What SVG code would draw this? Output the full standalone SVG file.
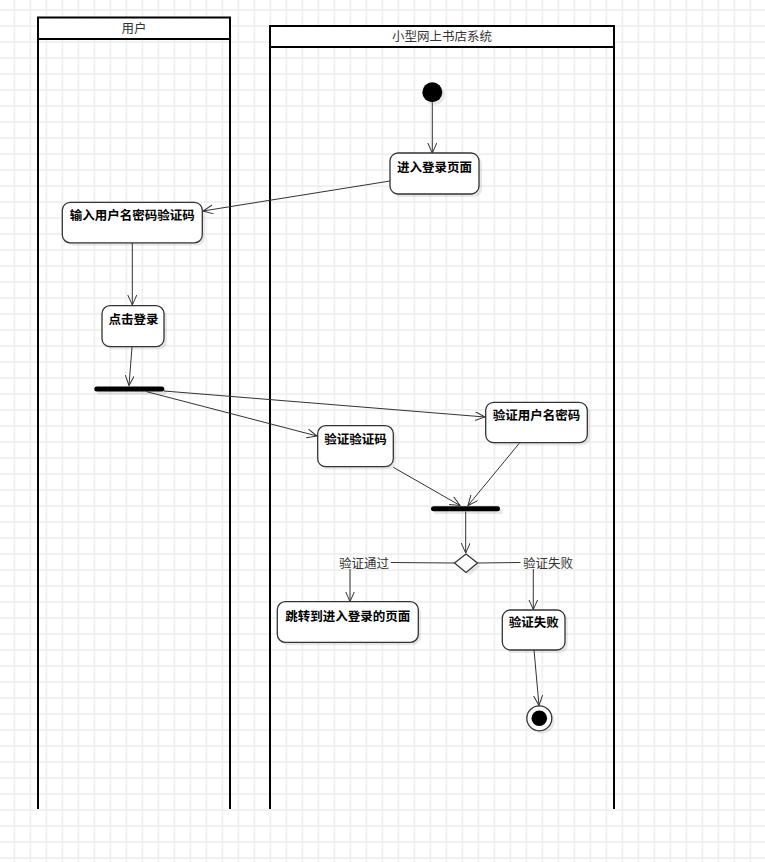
<svg xmlns="http://www.w3.org/2000/svg" width="765" height="862" viewBox="0 0 765 862">
<defs>
<pattern id="grid" x="6.3" y="2" width="16" height="16" patternUnits="userSpaceOnUse">
<path d="M8 0 V16 M0 8 H16" stroke="#ededed" stroke-width="1.4" fill="none"/>
</pattern>
<marker id="arr" markerWidth="12" markerHeight="10" refX="10" refY="4.5" orient="auto" markerUnits="userSpaceOnUse">
<path d="M0,0 L10,4.5 L0,9" fill="none" stroke="#333" stroke-width="1"/>
</marker>
<style>
.lane{fill:none;stroke:#000;stroke-width:2}
.lanehead{fill:#fff;stroke:#000;stroke-width:2}
.title{font-family:"Noto Sans CJK SC","Noto Sans",sans-serif;font-size:12.5px;fill:#333;text-anchor:middle;dominant-baseline:central}
.box{fill:#fff;stroke:#333;stroke-width:1.3}
.shadow{fill:#000;fill-opacity:0.09}
.lbl{font-family:"Noto Sans CJK SC","Noto Sans",sans-serif;font-size:12.5px;font-weight:bold;fill:#000;text-anchor:middle;dominant-baseline:central}
.elbl{font-family:"Noto Sans CJK SC","Noto Sans",sans-serif;font-size:12.5px;fill:#333;text-anchor:middle;dominant-baseline:central}
.edge{stroke:#333;stroke-width:1;fill:none}
.bar{fill:#000}
</style>
</defs>
<rect width="765" height="862" fill="#fff"/>
<rect width="765" height="862" fill="url(#grid)"/>

<g id="lane-user">
<path class="lane" d="M38 39 V809 M230 39 V809"/>
<rect class="lanehead" x="38" y="17.5" width="192" height="21.5"/>
<text class="title" x="134" y="27.5">用户</text>
</g>
<g id="lane-system">
<path class="lane" d="M270 47 V809 M614 47 V809"/>
<rect class="lanehead" x="270" y="26" width="344" height="21"/>
<text class="title" x="442" y="35.5">小型网上书店系统</text>
</g>

<g id="start">
<circle cx="435" cy="95" r="10" class="shadow"/>
<circle cx="432.3" cy="92.3" r="10" fill="#000"/>
</g>

<g id="n-enter">
<rect class="shadow" x="393" y="156" width="89" height="41" rx="8"/>
<rect class="box" x="390" y="153" width="89" height="41" rx="8"/>
<text class="lbl" x="434.5" y="166">进入登录页面</text>
</g>

<g id="n-input">
<rect class="shadow" x="65" y="205" width="140" height="40.5" rx="8"/>
<rect class="box" x="62.3" y="202.3" width="140" height="40.5" rx="8"/>
<text class="lbl" x="132.3" y="214">输入用户名密码验证码</text>
</g>

<g id="n-click">
<rect class="shadow" x="105" y="308.5" width="62" height="41" rx="8"/>
<rect class="box" x="102" y="305.7" width="62" height="41" rx="8"/>
<text class="lbl" x="133.5" y="318">点击登录</text>
</g>

<g id="fork1">
<rect class="shadow" x="97" y="389.5" width="70" height="5" rx="2.5"/>
<rect class="bar" x="94.3" y="386.5" width="70" height="5" rx="2.5"/>
</g>

<g id="n-code">
<rect class="shadow" x="320.5" y="428.5" width="75.6" height="41" rx="8"/>
<rect class="box" x="317.7" y="425.7" width="75.6" height="41" rx="8"/>
<text class="lbl" x="355.5" y="438">验证验证码</text>
</g>

<g id="n-userpwd">
<rect class="shadow" x="488.5" y="405" width="101.6" height="40.4" rx="8"/>
<rect class="box" x="485.7" y="402.3" width="101.6" height="40.4" rx="8"/>
<text class="lbl" x="536.5" y="414">验证用户名密码</text>
</g>

<g id="join">
<rect class="shadow" x="434" y="509" width="69" height="5" rx="2.5"/>
<rect class="bar" x="431" y="506.2" width="69" height="5" rx="2.5"/>
</g>

<g id="decision">
<path d="M469 557 L480.5 566 L469 575.5 L457.5 566 Z" class="shadow"/>
<path d="M466 554 L477.5 563 L466 572.5 L454.5 563 Z" fill="#fff" stroke="#333" stroke-width="1.3"/>
</g>

<g id="n-jump">
<rect class="shadow" x="280" y="604.5" width="141" height="40.6" rx="8"/>
<rect class="box" x="277.3" y="601.7" width="141" height="40.6" rx="8"/>
<text class="lbl" x="347.8" y="615">跳转到进入登录的页面</text>
</g>

<g id="n-fail">
<rect class="shadow" x="505" y="613" width="62.7" height="40" rx="8"/>
<rect class="box" x="502.3" y="610" width="62.7" height="40" rx="8"/>
<text class="lbl" x="533.7" y="621.7">验证失败</text>
</g>

<g id="end">
<circle cx="542" cy="721" r="12.7" class="shadow"/>
<circle cx="539.3" cy="718.3" r="12.5" fill="#fff" stroke="#333" stroke-width="1.3"/>
<circle cx="539.3" cy="718.3" r="7.8" fill="#000"/>
</g>

<g id="connectors">
<line class="edge" x1="432.3" y1="102.5" x2="432.3" y2="153" marker-end="url(#arr)"/>
<line class="edge" x1="390" y1="181" x2="203" y2="211" marker-end="url(#arr)"/>
<line class="edge" x1="132.3" y1="243" x2="132.3" y2="305" marker-end="url(#arr)"/>
<line class="edge" x1="132" y1="347" x2="129" y2="385.5" marker-end="url(#arr)"/>
<line class="edge" x1="146" y1="391.5" x2="317" y2="436" marker-end="url(#arr)"/>
<line class="edge" x1="164" y1="391" x2="485" y2="417" marker-end="url(#arr)"/>
<line class="edge" x1="393.3" y1="467.3" x2="460" y2="505.5" marker-end="url(#arr)"/>
<line class="edge" x1="519.3" y1="443.3" x2="468" y2="505.5" marker-end="url(#arr)"/>
<line class="edge" x1="465.7" y1="511.5" x2="465.7" y2="553" marker-end="url(#arr)"/>
<line class="edge" x1="454.5" y1="563" x2="391" y2="562.5"/>
<line class="edge" x1="350" y1="569" x2="350" y2="601.5" marker-end="url(#arr)"/>
<line class="edge" x1="477.5" y1="563" x2="520.5" y2="562.5"/>
<line class="edge" x1="533.3" y1="569" x2="533.3" y2="609.5" marker-end="url(#arr)"/>
<line class="edge" x1="534" y1="650" x2="539" y2="705.5" marker-end="url(#arr)"/>
<text class="elbl" x="364" y="562.3">验证通过</text>
<text class="elbl" x="548" y="562">验证失败</text>
</g>
</svg>
